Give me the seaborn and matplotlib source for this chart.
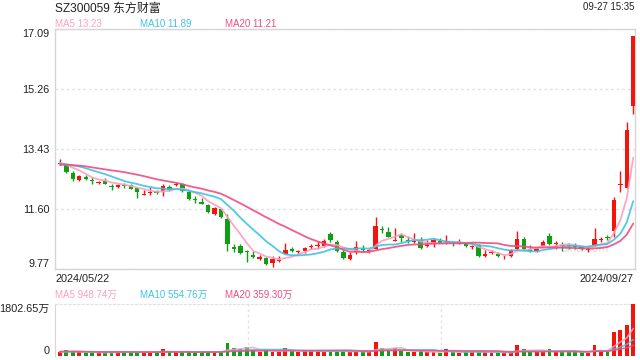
import matplotlib
matplotlib.use("Agg")
import matplotlib.pyplot as plt
import seaborn as sns
import numpy as np
import pandas as pd

# ------------------------------------------
# daily K-line data, 2024/05/22 .. 2024/09/27 (90 sessions)
# ------------------------------------------
opens = [12.98, 12.95, 12.71, 12.49, 12.58, 12.50, 12.40, 12.46, 12.32, 12.28,
         12.33, 12.34, 12.25, 12.05, 12.09, 12.15, 12.16, 12.27, 12.34, 12.37,
         12.14, 11.92, 11.83, 11.74, 11.47, 11.60, 11.30, 10.45, 10.48, 10.33,
         10.20, 10.08, 10.11, 9.97, 10.03, 10.25, 10.38, 10.29, 10.33, 10.44,
         10.47, 10.48, 10.86, 10.60, 10.30, 10.08, 10.30, 10.40, 10.32, 10.38,
         10.98, 10.90, 10.64, 10.83, 10.67, 10.60, 10.66, 10.49, 10.55, 10.62,
         10.59, 10.58, 10.57, 10.57, 10.44, 10.50, 10.17, 10.26, 10.25, 10.13,
         10.17, 10.38, 10.70, 10.40, 10.33, 10.48, 10.78, 10.55, 10.51, 10.49,
         10.48, 10.45, 10.36, 10.50, 10.67, 10.76, 10.93, 12.33, 12.25, 14.75]
highs = [13.12, 12.98, 12.76, 12.65, 12.65, 12.58, 12.47, 12.55, 12.38, 12.38,
         12.40, 12.38, 12.27, 12.20, 12.28, 12.20, 12.38, 12.33, 12.42, 12.41,
         12.16, 12.00, 11.95, 11.77, 11.68, 11.62, 11.47, 10.55, 10.55, 10.37,
         10.33, 10.20, 10.15, 10.17, 10.17, 10.57, 10.44, 10.37, 10.45, 10.55,
         10.62, 10.70, 10.91, 10.65, 10.35, 10.30, 10.62, 10.50, 10.40, 11.37,
         11.09, 11.06, 11.03, 10.89, 10.79, 10.88, 10.74, 10.66, 10.71, 10.71,
         10.81, 10.60, 10.68, 10.60, 10.52, 10.53, 10.35, 10.37, 10.30, 10.20,
         10.40, 10.94, 10.76, 10.50, 10.42, 10.66, 10.88, 10.64, 10.60, 10.57,
         10.57, 10.48, 10.45, 11.03, 10.74, 10.81, 11.96, 12.77, 14.26, 16.88]
lows = [12.95, 12.70, 12.46, 12.45, 12.48, 12.38, 12.36, 12.36, 12.20, 12.24,
        12.26, 12.21, 11.95, 12.03, 12.03, 12.07, 12.00, 12.15, 12.30, 12.12,
        11.87, 11.80, 11.75, 11.49, 11.42, 11.33, 10.33, 10.30, 10.25, 9.99,
        10.10, 10.05, 9.89, 9.84, 9.99, 10.23, 10.30, 10.25, 10.27, 10.40,
        10.40, 10.45, 10.60, 10.30, 10.08, 10.05, 10.25, 10.34, 10.27, 10.38,
        10.89, 10.74, 10.62, 10.60, 10.58, 10.57, 10.40, 10.45, 10.45, 10.56,
        10.55, 10.48, 10.53, 10.46, 10.40, 10.13, 10.15, 10.23, 10.13, 10.08,
        10.15, 10.37, 10.35, 10.30, 10.30, 10.45, 10.50, 10.40, 10.33, 10.40,
        10.40, 10.36, 10.30, 10.48, 10.60, 10.66, 10.76, 12.13, 12.25, 14.50]
closes = [13.02, 12.73, 12.53, 12.61, 12.51, 12.47, 12.43, 12.38, 12.29, 12.35,
          12.31, 12.23, 12.13, 12.07, 12.12, 12.11, 12.31, 12.19, 12.37, 12.17,
          11.90, 11.87, 11.77, 11.52, 11.65, 11.35, 10.55, 10.40, 10.27, 10.30,
          10.13, 10.15, 9.94, 10.09, 10.05, 10.35, 10.33, 10.31, 10.42, 10.46,
          10.49, 10.62, 10.65, 10.33, 10.11, 10.20, 10.45, 10.36, 10.35, 11.08,
          10.96, 10.75, 10.67, 10.73, 10.64, 10.62, 10.42, 10.51, 10.66, 10.58,
          10.61, 10.56, 10.59, 10.48, 10.46, 10.17, 10.23, 10.28, 10.17, 10.15,
          10.35, 10.70, 10.38, 10.33, 10.38, 10.60, 10.54, 10.57, 10.49, 10.47,
          10.46, 10.38, 10.38, 10.69, 10.70, 10.73, 11.87, 12.36, 14.03, 16.88]
# volume in 万手
volumes = [110, 180, 145, 110, 85, 85, 110, 120, 120, 120,
           120, 120, 120, 120, 120, 120, 215, 110, 110, 120,
           120, 120, 120, 120, 120, 120, 445, 265, 215, 290,
           180, 120, 205, 120, 120, 265, 155, 120, 155, 155,
           180, 120, 155, 155, 155, 120, 155, 120, 120, 480,
           265, 180, 265, 155, 120, 120, 155, 120, 120, 95,
           215, 120, 95, 120, 120, 155, 120, 95, 85, 85,
           120, 360, 215, 120, 120, 120, 215, 120, 120, 120,
           120, 120, 95, 360, 155, 120, 840, 900, 1080, 1802.65]

# 19 sessions before the window, only used to seed the moving averages
prev_closes = [12.72, 12.85, 12.80, 12.95, 13.10, 13.05, 12.98, 12.90, 12.85, 12.92,
               13.00, 12.88, 12.95, 13.05, 13.10, 13.02, 12.96, 13.00, 13.05]
prev_volumes = [140, 150, 130, 160, 170, 150, 140, 130, 120, 130,
                150, 140, 130, 140, 150, 130, 120, 130, 140]

title = "SZ300059 东方财富"
stamp = "09-27 15:35"
first_date, last_date = "2024/05/22", "2024/09/27"
ma_price_text = ["MA5 13.23", "MA10 11.89", "MA20 11.21"]
ma_vol_text = ["MA5 948.74万", "MA10 554.76万", "MA20 359.30万"]
price_ticks = [9.77, 11.60, 13.43, 15.26, 17.09]
vol_max = 1802.65

# ------------------------------------------
# styling
# ------------------------------------------
sns.set_style("white")
FONTS = ["Liberation Sans", "Noto Sans CJK SC", "DejaVu Sans"]
plt.rcParams["font.family"] = FONTS

RED = "#f5140c"
GREEN = "#0f9e14"
MA_COLORS = ["#ff9ec0", "#3ec3e3", "#ee4d80"]
BORDER = "#d6d6d6"
GRID = "#e2e2e2"

n = len(closes)
idx = np.arange(n)
up = np.array(closes) >= np.array(opens)
colors = np.where(up, RED, GREEN)


def moving_avgs(prev, vals):
    s = pd.Series(prev + vals, dtype=float)
    return {w: s.rolling(w).mean().iloc[len(prev):].to_numpy() for w in (5, 10, 20)}


price_ma = moving_avgs(prev_closes, closes)
vol_ma = moving_avgs(prev_volumes, volumes)

W, H = 640, 360
fig = plt.figure(figsize=(6.4, 3.6), dpi=100)
L, R = 54.5, 634.5
ax = fig.add_axes([L / W, 1 - 269.3 / H, (R - L) / W, (269.3 - 29.3) / H])
axv = fig.add_axes([L / W, 1 - 355.5 / H, (R - L) / W, (355.5 - 304.3) / H])

xlim = (-0.85, n - 1 + 0.2)

# ---- price panel ----
ax.vlines(idx, lows, highs, colors=colors, lw=1, zorder=3)
body_lo = np.minimum(opens, closes)
body_h = np.maximum(np.abs(np.array(closes) - np.array(opens)), 0.03)
ax.bar(idx, body_h, bottom=body_lo, width=0.68, color=colors, lw=0, zorder=4)
for w, c in zip((5, 10, 20), MA_COLORS):
    sns.lineplot(x=idx, y=price_ma[w], ax=ax, color=c, lw=1.3, alpha=0.9, zorder=5)

ax.set_xlim(*xlim)
ax.set_ylim(price_ticks[0], price_ticks[-1])
ax.set_xticks([])
ax.set_yticks(price_ticks)
ax.set_yticklabels([f"{t:.2f}" for t in price_ticks])
ax.tick_params(axis="y", length=0, pad=3.5, labelsize=7.8, labelcolor="#222222")
labels = ax.get_yticklabels()
labels[0].set_va("bottom")
labels[-1].set_va("top")
ax.yaxis.grid(True, linestyle=(0, (2, 2)), color=GRID, lw=1)
for sp in ax.spines.values():
    sp.set_color(BORDER)
    sp.set_linewidth(1)
ax.text(0.915, 0.085, "sina.com", transform=ax.transAxes, fontsize=8.5,
        color="#dcdcdc", ha="center", va="center", zorder=2)

# ---- volume panel ----
axv.bar(idx, volumes, width=0.6, color=colors, lw=0, zorder=3)
for w, c in zip((5, 10, 20), MA_COLORS):
    sns.lineplot(x=idx, y=vol_ma[w], ax=axv, color=c, lw=1.2, alpha=0.85, zorder=4)
axv.set_xlim(*xlim)
axv.set_ylim(0, vol_max)
axv.set_xticks([])
axv.set_yticks([0, vol_max])
axv.set_yticklabels(["0", f"{vol_max:.2f}万"])
axv.tick_params(axis="y", length=0, pad=3.5, labelsize=7.8, labelcolor="#222222")
vl = axv.get_yticklabels()
vl[0].set_va("bottom")
vl[1].set_va("top")
axv.spines["left"].set_color(BORDER)
axv.spines["top"].set_color(GRID)
axv.spines["top"].set_linestyle((0, (2, 2)))
axv.spines["right"].set_visible(False)
axv.spines["bottom"].set_visible(False)
span = xlim[1] - xlim[0]
for k in (1, 2):
    axv.axvline(xlim[0] + span * k / 3, color=GRID, lw=1, linestyle=(0, (2, 2)), zorder=1)

# ---- texts ----
def ftext(x, y, s, **kw):
    fig.text(x / W, 1 - y / H, s, va="baseline", **kw)

ftext(55, 11.7, title, fontsize=8.6, color="#222222")
ftext(634, 10.3, stamp, fontsize=6.9, color="#222222", ha="right")
for x0, s, c in zip((55, 140, 225), ma_price_text, MA_COLORS):
    ftext(x0, 27.3, s, fontsize=7, color=c)
ftext(55, 281.7, first_date, fontsize=7.8, color="#222222")
ftext(634, 281.7, last_date, fontsize=7.8, color="#222222", ha="right")
for x0, s, c in zip((55, 140, 225), ma_vol_text, MA_COLORS):
    ftext(x0, 298.3, s, fontsize=7, color=c)

fig.savefig("out.png", dpi=100)
